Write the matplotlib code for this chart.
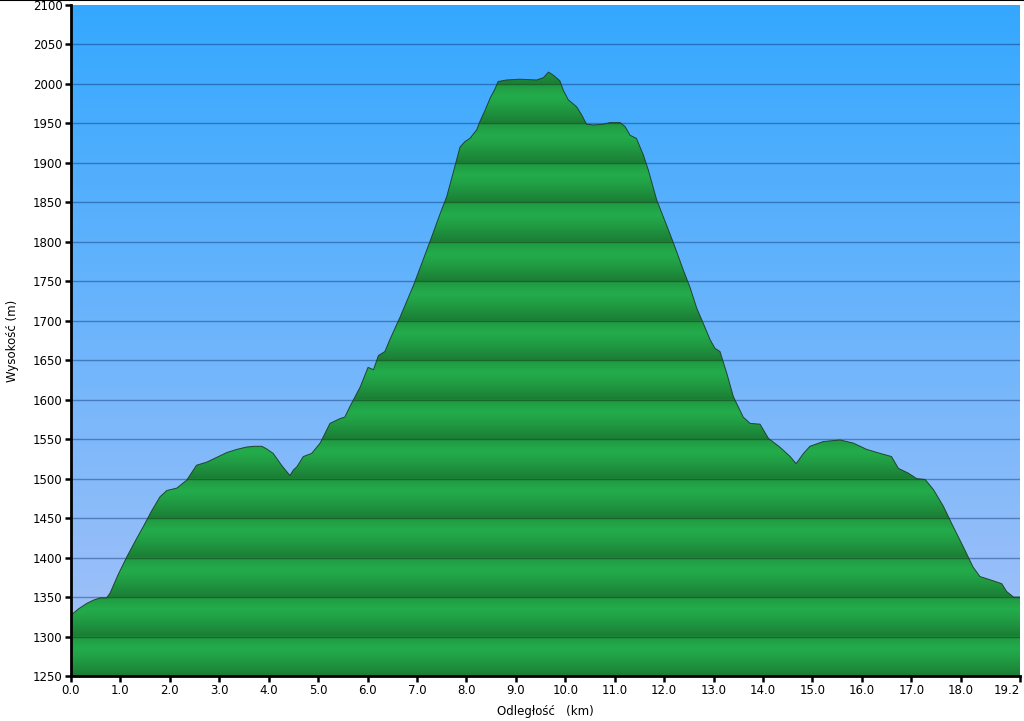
import numpy as np
import matplotlib
matplotlib.use("Agg")
import matplotlib.pyplot as plt
from matplotlib.patches import Polygon
from matplotlib.lines import Line2D

distance_km = [0.00, 0.15, 0.32, 0.45, 0.59, 0.72, 0.79, 0.95, 1.13, 1.30, 1.46, 1.63, 1.80, 1.94,
               2.14, 2.34, 2.54, 2.75, 2.95, 3.15, 3.35, 3.55, 3.70, 3.86, 3.95, 4.09, 4.26, 4.35,
               4.43, 4.50, 4.57, 4.70, 4.87, 5.04, 5.24, 5.44, 5.54, 5.64, 5.85, 6.01, 6.12, 6.22,
               6.35, 6.45, 6.66, 6.93, 7.26, 7.47, 7.60, 7.73, 7.87, 7.97, 8.07, 8.21, 8.27, 8.38,
               8.48, 8.58, 8.64, 8.81, 9.08, 9.42, 9.56, 9.66, 9.76, 9.89, 9.96, 10.06, 10.23, 10.33,
               10.43, 10.57, 10.77, 10.90, 11.11, 11.21, 11.31, 11.44, 11.58, 11.68, 11.85, 12.05,
               12.18, 12.39, 12.52, 12.66, 12.79, 12.93, 13.03, 13.13, 13.27, 13.40, 13.60, 13.74,
               13.94, 14.11, 14.34, 14.55, 14.67, 14.82, 14.95, 15.22, 15.56, 15.83, 16.10, 16.37,
               16.60, 16.74, 16.94, 17.11, 17.28, 17.45, 17.65, 17.85, 18.05, 18.25, 18.39, 18.59,
               18.83, 18.93, 19.07, 19.20]
elevation_m = [1327, 1335, 1342, 1346, 1349, 1349, 1355, 1378, 1401, 1421, 1439, 1459, 1477, 1485,
               1488, 1498, 1517, 1521, 1527, 1533, 1537, 1540, 1541, 1541, 1538, 1532, 1517, 1510,
               1504, 1511, 1515, 1528, 1532, 1545, 1570, 1576, 1578, 1591, 1616, 1641, 1638, 1656,
               1661, 1676, 1705, 1745, 1800, 1836, 1857, 1887, 1920, 1927, 1931, 1942, 1952, 1967,
               1982, 1994, 2003, 2005, 2006, 2005, 2008, 2015, 2011, 2004, 1992, 1980, 1971, 1961,
               1949, 1948, 1949, 1951, 1951, 1946, 1935, 1931, 1910, 1891, 1853, 1821,
               1800, 1764, 1743, 1716, 1697, 1676, 1665, 1661, 1633, 1604, 1578, 1570,
               1569, 1551, 1540, 1528, 1519, 1532, 1541, 1547, 1549, 1545, 1537, 1532,
               1528, 1513, 1507, 1500, 1499, 1486, 1465, 1439, 1414, 1388, 1376, 1372,
               1367, 1357, 1350, 1350]

x_ticks = [0, 1, 2, 3, 4, 5, 6, 7, 8, 9, 10, 11, 12, 13, 14, 15, 16, 17, 18, 19.2]
x_ticklabels = ["0.0", "1.0", "2.0", "3.0", "4.0", "5.0", "6.0", "7.0", "8.0", "9.0", "10.0",
                "11.0", "12.0", "13.0", "14.0", "15.0", "16.0", "17.0", "18.0", "19.2"]
y_ticks = list(range(1250, 2101, 50))

x_min, x_max = 0.0, 19.2
y_min, y_max = 1250, 2100

fig = plt.figure(figsize=(10.24, 7.21), dpi=100)
fig.patch.set_facecolor("white")
ax = fig.add_axes([71 / 1024, 45 / 721, 949 / 1024, 671 / 721])
ax.set_xlim(x_min, x_max)
ax.set_ylim(y_min, y_max)

# sky gradient background
top_c = np.array([52, 168, 255]) / 255
bot_c = np.array([168, 194, 248]) / 255
t = np.linspace(0, 1, 400)[:, None]
sky = (bot_c * (1 - t) + top_c * t)[:, None, :]
ax.imshow(sky, extent=[x_min, x_max, y_min, y_max], origin="lower", aspect="auto",
          zorder=0, interpolation="bilinear")

# gridlines on sky
for yv in y_ticks[1:-1]:
    ax.axhline(yv, color=(0.05, 0.2, 0.45), alpha=0.45, lw=1.0, zorder=1)

# terrain polygon
verts = [(distance_km[0], y_min)] + list(zip(distance_km, elevation_m)) + [(distance_km[-1], y_min)]
patch = Polygon(verts, closed=True, facecolor="none", edgecolor="none")
ax.add_patch(patch)

ys = np.linspace(y_min, y_max, 3401)
band_top = 50 * np.ceil(ys / 50 - 1e-9)
f = (band_top - ys) / 50.0
light = np.array([35, 172, 75]) / 255
dark = np.array([27, 124, 52]) / 255
g = np.where(f < 0.3, 0.4 * (0.3 - f) / 0.3, ((f - 0.3) / 0.7) ** 1.2)
band = light[None, :] * (1 - g[:, None]) + dark[None, :] * g[:, None]
im = ax.imshow(band[:, None, :], extent=[x_min, x_max, y_min, y_max], origin="lower",
               aspect="auto", zorder=2, interpolation="bilinear")
im.set_clip_path(patch)

for yv in y_ticks[1:-1]:
    ln = ax.axhline(yv, color=(0.09, 0.40, 0.17), lw=1.0, zorder=3)
    ln.set_clip_path(patch)

ax.plot(distance_km, elevation_m, color="#1c3a24", lw=0.7, alpha=0.9, zorder=4)

ax.set_xticks(x_ticks)
ax.set_xticklabels(x_ticklabels)
ax.get_xticklabels()[-1].set_horizontalalignment("right")
ax.set_yticks(y_ticks)
ax.tick_params(axis="both", direction="out", length=4, width=1.8, color="black",
               labelsize=8.5, pad=2)
for s in ["top", "right"]:
    ax.spines[s].set_visible(False)
for s in ["left", "bottom"]:
    ax.spines[s].set_linewidth(2)
    ax.spines[s].set_color("black")
    ax.spines[s].set_zorder(6)

ax.set_ylabel("Wysokość (m)", fontsize=8.5)
ax.yaxis.set_label_coords(-0.055, 0.5)
ax.set_xlabel("Odległość   (km)", fontsize=8.5)
ax.xaxis.set_label_coords(0.5, -0.043)

fig.add_artist(Line2D([0, 1], [0.9995, 0.9995], transform=fig.transFigure, color="black", lw=1.5))

fig.savefig("out.png", dpi=100)
